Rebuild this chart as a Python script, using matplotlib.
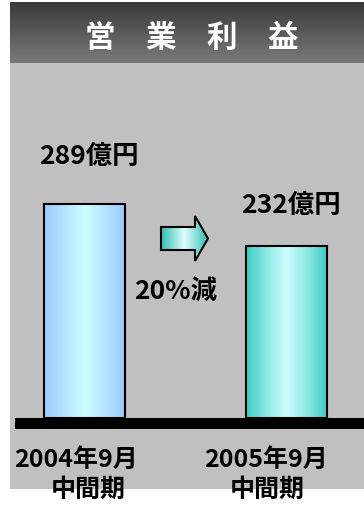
import numpy as np
import matplotlib
matplotlib.use("Agg")
from matplotlib import pyplot as plt
from matplotlib.colors import LinearSegmentedColormap
from matplotlib.patches import Rectangle, Polygon

plt.rcParams['font.family'] = ['Noto Sans CJK JP', 'DejaVu Sans']

title = '営　業　利　益'
periods = ['2004年9月', '2005年9月']
period_sub = ['中間期', '中間期']
values = [289, 232]
value_labels = ['289億円', '232億円']
change_label = '20%減'

W, H = 364, 505
fig = plt.figure(figsize=(W / 100, H / 100), dpi=100)
fig.patch.set_facecolor('white')

# background axes in pixel coordinates
bg = fig.add_axes([0, 0, 1, 1], zorder=0)
bg.axis('off')

# gray panel
bg.add_patch(Rectangle((10, 63), W - 10, 426, facecolor='#c0c0c0', edgecolor='none'))

# title bar with vertical gradient
grad = np.linspace(0, 1, 100).reshape(-1, 1)
title_cmap = LinearSegmentedColormap.from_list('t', ['#3a3a3a', '#7a7a7a'])
bg.imshow(grad, extent=[10, W, 63, 2], aspect='auto', cmap=title_cmap, zorder=1)
bg.text(192, 38, title, color='white', fontsize=22, fontweight='bold',
        ha='center', va='center', zorder=2)

# arrow
arrow_pts = [(161, 227), (195, 227), (195, 216), (208, 238.5),
             (195, 261), (195, 250), (161, 250)]
arrow = Polygon(arrow_pts, closed=True, facecolor='none', edgecolor='black', lw=1.5, zorder=3)
bg.add_patch(arrow)
arrow_cmap = LinearSegmentedColormap.from_list('a', ['#30bdb5', '#e0ffff', '#30bdb5'])
hgrad = np.linspace(0, 1, 100).reshape(1, -1)
im = bg.imshow(hgrad, extent=[161, 208, 261, 216], aspect='auto', cmap=arrow_cmap, zorder=2)
im.set_clip_path(arrow)

bg.text(176, 291, change_label, fontsize=19, fontweight='bold', ha='center', va='center', zorder=3)

# baseline
bg.add_patch(Rectangle((15, 418), W - 15, 11, facecolor='black', edgecolor='none', zorder=3))
bg.set_xlim(0, W)
bg.set_ylim(H, 0)

# bar axes
ax = fig.add_axes([10 / W, (H - 418) / H, (W - 10) / W, (418 - 63) / H], zorder=1)
ax.patch.set_alpha(0)
ax.axis('off')

x = np.arange(len(values))
width = 0.405
bar_cmaps = [
    LinearSegmentedColormap.from_list('b0', ['#9ccbff', '#b4e4ff', '#ccffff', '#b4e4ff', '#9ccbff']),
    LinearSegmentedColormap.from_list('b1', ['#3ccdc5', '#8ee8e4', '#ccffff', '#8ee8e4', '#3ccdc5']),
]
bars = ax.bar(x, values, width=width, facecolor='none', edgecolor='black', linewidth=1.5, zorder=3)
for b, cm in zip(bars, bar_cmaps):
    x0, w, h = b.get_x(), b.get_width(), b.get_height()
    im = ax.imshow(hgrad, extent=[x0, x0 + w, 0, h], aspect='auto', cmap=cm, zorder=2)
    im.set_clip_path(b)

ax.set_xlim(-0.369, 1.384)
ax.set_ylim(0, 480)

offsets = [48, 41]
for xi, v, lab, off in zip(x, values, value_labels, offsets):
    ax.annotate(lab, (xi, v), xytext=(3, off * 0.72), textcoords='offset points',
                fontsize=19, fontweight='bold', ha='center', va='center')

line1_dx = [-6, -15]
line2_dx = [3, -14]
for xi, p, s, d1, d2 in zip(x, periods, period_sub, line1_dx, line2_dx):
    ax.annotate(p, (xi, 0), xytext=(d1, -30), textcoords='offset points',
                fontsize=18, fontweight='bold', ha='center', va='center',
                annotation_clip=False)
    ax.annotate(s, (xi, 0), xytext=(d2, -52), textcoords='offset points',
                fontsize=18, fontweight='bold', ha='center', va='center',
                annotation_clip=False)

fig.savefig('out.png', dpi=100)
